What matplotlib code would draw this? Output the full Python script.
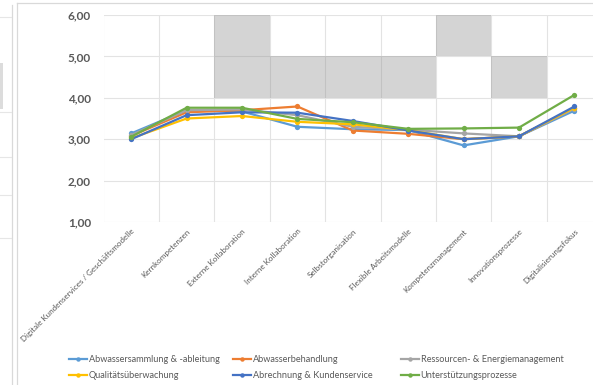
import numpy as np
import matplotlib
matplotlib.use("Agg")
import matplotlib.pyplot as plt
from matplotlib.lines import Line2D

plt.rcParams['font.family'] = ['Lato', 'DejaVu Sans']

categories = [
    "Digitale Kundenservices / Geschäftsmodelle",
    "Kernkompetenzen",
    "Externe Kollaboration",
    "Interne Kollaboration",
    "Selbstorganisation",
    "Flexible Arbeitsmodelle",
    "Kompetenzmanagement",
    "Innovationsprozesse",
    "Digitalisierungsfokus",
]

series_names = [
    "Abwassersammlung & -ableitung",
    "Abwasserbehandlung",
    "Ressourcen- & Energiemanagement",
    "Qualitätsüberwachung",
    "Abrechnung & Kundenservice",
    "Unterstützungsprozesse",
]

abwassersammlung = [3.14, 3.70, 3.67, 3.30, 3.24, 3.22, 2.85, 3.07, 3.69]
abwasserbehandlung = [3.08, 3.65, 3.70, 3.79, 3.21, 3.13, 3.00, 3.07, 3.75]
ressourcen = [3.10, 3.70, 3.72, 3.58, 3.30, 3.23, 3.14, 3.07, 3.74]
qualitaet = [3.02, 3.50, 3.56, 3.42, 3.36, 3.22, 3.00, 3.07, 3.76]
abrechnung = [3.00, 3.58, 3.65, 3.64, 3.44, 3.21, 3.00, 3.07, 3.79]
unterstuetzung = [3.06, 3.76, 3.76, 3.49, 3.41, 3.25, 3.26, 3.28, 4.07]

# target corridor per category (lower / upper bound), empty where none is defined
target_low = [np.nan, np.nan, 4, 4, 4, 4, 5, 4, np.nan]
target_high = [np.nan, np.nan, 6, 5, 5, 5, 6, 5, np.nan]

y_ticks = [1, 2, 3, 4, 5, 6]

series_values = [abwassersammlung, abwasserbehandlung, ressourcen,
                 qualitaet, abrechnung, unterstuetzung]
colors = ["#5B9BD5", "#ED7D31", "#A5A5A5", "#FFC000", "#4472C4", "#70AD47"]

W, H = 593, 385
fig = plt.figure(figsize=(W / 100, H / 100), dpi=100)
fig.patch.set_facecolor("white")

# plot area (continues past the right edge of the image)
left_px, top_px, bottom_px = 103.5, 15, 222
cat_w = 55.4
ax = fig.add_axes([left_px / W, 1 - bottom_px / H,
                   9 * cat_w / W, (bottom_px - top_px) / H])
ax.set_facecolor("none")

x = np.arange(len(categories))

low = np.array(target_low, dtype=float)
high = np.array(target_high, dtype=float)
ax.bar(x, high - low, bottom=low, width=1.0, color="#7f7f7f", alpha=0.33,
       linewidth=0, zorder=2)

for vals, name, col in zip(series_values, series_names, colors):
    ax.plot(x, vals, color=col, lw=1.6, marker="o", ms=3.8,
            markeredgewidth=0, label=name, zorder=3)

ax.set_xlim(-0.5, 8.5)
ax.set_ylim(1, 6)
ax.set_yticks(y_ticks)
ax.set_yticklabels([f"{v:.2f}".replace(".", ",") for v in y_ticks],
                   fontsize=8.5, fontweight="bold", color="#595959")
ax.set_xticks(x)
ax.set_xticklabels(categories, rotation=45, ha="right",
                   rotation_mode="anchor", fontsize=5.8, color="#595959")
ax.set_xticks(np.arange(-0.5, 9.0, 1.0), minor=True)
ax.tick_params(axis="both", which="both", length=0)
ax.tick_params(axis="y", pad=9)
ax.tick_params(axis="x", pad=4)
ax.grid(axis="y", which="major", color="#e3e3e3", lw=0.8, zorder=0)
ax.grid(axis="x", which="minor", color="#e3e3e3", lw=0.8, zorder=0)
for s in ax.spines.values():
    s.set_visible(False)

# legend: three equally wide columns of two entries
handles = [Line2D([], [], color=c, lw=1.6, marker="o", ms=3.2,
                  markeredgewidth=0) for c in colors]
col_x = [69, 233, 401]
for i, cx in enumerate(col_x):
    idx = [i, i + 3]
    leg = fig.legend([handles[j] for j in idx], [series_names[j] for j in idx],
                     loc="upper left", bbox_to_anchor=(cx / W, 1 - 355 / H),
                     frameon=False, fontsize=6.6, handlelength=2.0,
                     handletextpad=0.15, labelspacing=0.8, borderpad=0,
                     borderaxespad=0)
    for t in leg.get_texts():
        t.set_color("#595959")

# surrounding frame lines
frame_col = "#d9d9d9"
fig.add_artist(Line2D([17 / W, 17 / W], [0, 1 - 3 / H], color=frame_col, lw=0.9))
fig.add_artist(Line2D([17 / W, 1], [1 - 3 / H, 1 - 3 / H], color=frame_col, lw=0.9))
fig.add_artist(Line2D([11.5 / W, 11.5 / W], [0, 1 - 5 / H], color=frame_col, lw=0.9))
for yy in [17, 112, 157, 195, 238]:
    fig.add_artist(Line2D([0, 11 / W], [1 - yy / H, 1 - yy / H],
                          color="#e6e6e6", lw=0.8))
fig.add_artist(plt.Rectangle((0, 1 - 109 / H), 3 / W, 46 / H,
                             transform=fig.transFigure, color="#dcdcdc", lw=0))

fig.savefig("out.png", dpi=100)
